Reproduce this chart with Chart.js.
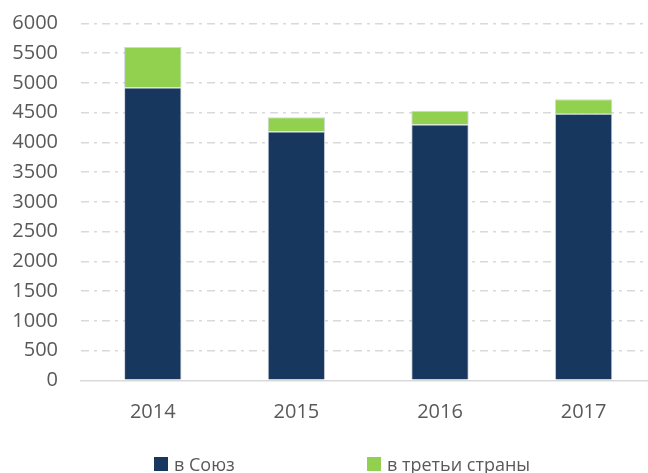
<!DOCTYPE html>
<html>
<head>
<meta charset="utf-8">
<script src="https://cdn.jsdelivr.net/npm/chart.js@4.4.1/dist/chart.umd.min.js"></script>
<style>
  html, body { margin: 0; padding: 0; background: #fff; overflow: hidden; width: 648px; height: 473px; }
  #wrap { position: relative; width: 648px; height: 473px; overflow: hidden; }
  canvas { position: absolute; left: 0; top: 0; }
  #legend { position: absolute; left: 0; top: 453px; width: 648px; height: 22px; font-family: "Open Sans", sans-serif; font-size: 18px; color: #595959; }
  .item { position: absolute; top: 0; display: flex; align-items: center; height: 22px; white-space: nowrap; }
  .box { width: 14px; height: 14px; margin-right: 6px; }
</style>
</head>
<body>
<div id="wrap">
  <canvas id="c" width="660" height="473"></canvas>
  <div id="legend"></div>
</div>
<script>
const categories = ["2014", "2015", "2016", "2017"];
const seriesNames = ["в Союз", "в третьи страны"];
const soyuz = [4920, 4180, 4300, 4480];
const thirdCountries = [680, 240, 230, 245];
const yTicks = [0, 500, 1000, 1500, 2000, 2500, 3000, 3500, 4000, 4500, 5000, 5500, 6000];
const colors = ["#17375e", "#92d050"];

const textColor = "#595959";
const font = { family: "'Open Sans', sans-serif", size: 20 };

new Chart(document.getElementById("c"), {
  type: "bar",
  data: {
    labels: categories,
    datasets: [
      { label: seriesNames[0], data: soyuz, backgroundColor: colors[0], borderColor: "rgba(150,165,180,0.45)", borderWidth: 1, categoryPercentage: 1, barPercentage: 0.4 },
      { label: seriesNames[1], data: thirdCountries, backgroundColor: colors[1], borderColor: "rgba(150,165,180,0.45)", borderWidth: 1, categoryPercentage: 1, barPercentage: 0.4 }
    ]
  },
  options: {
    responsive: false,
    animation: false,
    layout: { padding: { top: 23.3, right: 4.6, left: 0, bottom: 28.7 } },
    plugins: { legend: { display: false }, tooltip: { enabled: false } },
    scales: {
      x: {
        stacked: true,
        grid: { display: false, drawTicks: false },
        border: { display: true, color: "#d9d9d9", width: 1.5 },
        ticks: { color: textColor, font: font, padding: 20 },
        afterFit: (s) => { s.paddingLeft = 0; s.paddingRight = 0; }
      },
      y: {
        stacked: true,
        min: yTicks[0],
        max: yTicks[yTicks.length - 1],
        afterBuildTicks: (s) => { s.ticks = yTicks.map(v => ({ value: v })); },
        afterFit: (s) => { s.width = 81; s.paddingTop = 0; s.paddingBottom = 0; },
        grid: {
          drawTicks: false,
          color: (ctx) => (ctx.tick && ctx.tick.value === 0) ? "rgba(0,0,0,0)" : "#d9d9d9",
          lineWidth: 1.5
        },
        border: { display: false, dash: [8, 5, 3, 5] },
        ticks: { color: textColor, font: font, padding: 23, callback: (v) => String(v) }
      }
    }
  }
});

const legend = document.getElementById("legend");
const lefts = [154, 367];
seriesNames.forEach((name, i) => {
  const it = document.createElement("div");
  it.className = "item";
  it.style.left = lefts[i] + "px";
  const b = document.createElement("span");
  b.className = "box";
  b.style.background = colors[i];
  const t = document.createElement("span");
  t.textContent = name;
  it.appendChild(b); it.appendChild(t);
  legend.appendChild(it);
});
</script>
</body>
</html>
